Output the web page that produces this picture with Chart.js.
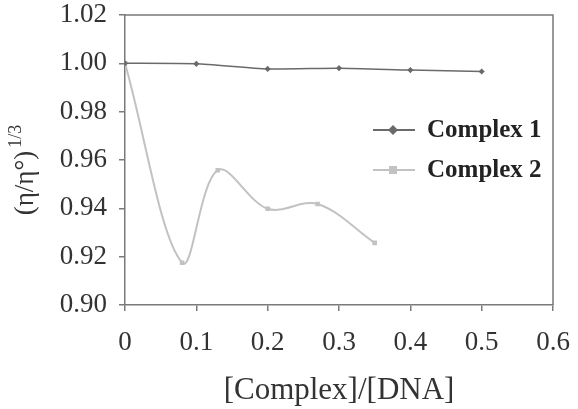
<!DOCTYPE html>
<html>
<head>
<meta charset="utf-8">
<script src="https://cdn.jsdelivr.net/npm/chart.js@4/dist/chart.umd.min.js"></script>
<style>
html,body{margin:0;padding:0;background:#fff;}
#wrap{width:578px;height:409px;position:relative;}
</style>
</head>
<body>
<div id="wrap"><canvas id="c" width="578" height="409"></canvas></div>
<script>
const xValues1 = [0, 0.1, 0.2, 0.3, 0.4, 0.5];
const yValues1 = [1.000, 0.9998, 0.9977, 0.9980, 0.9972, 0.9966];
const xValues2 = [0, 0.08, 0.13, 0.2, 0.27, 0.35];
const yValues2 = [1.000, 0.9175, 0.9558, 0.9398, 0.9418, 0.9257];
const seriesNames = ["Complex 1", "Complex 2"];
const yTicks = [0.90, 0.92, 0.94, 0.96, 0.98, 1.00, 1.02];
const xTicks = [0, 0.1, 0.2, 0.3, 0.4, 0.5, 0.6];
const xTitle = "[Complex]/[DNA]";
const yTitleMain = "(η/η°)";
const yTitleSup = "1/3";

const FONT = "'Liberation Serif', 'Times New Roman', serif";
const C1 = "#6a6a6a";
const C2 = "#c2c2c2";
const AXIS = "#7a7a7a";

const pts = (xs, ys) => xs.map((x, i) => ({x: x, y: ys[i]}));

const framePlugin = {
  id: 'frame',
  afterDraw(chart) {
    const {ctx, chartArea: a} = chart;
    ctx.save();
    ctx.strokeStyle = AXIS;
    ctx.lineWidth = 1.5;
    ctx.beginPath();
    ctx.moveTo(a.left, a.top);
    ctx.lineTo(a.right, a.top);
    ctx.lineTo(a.right, a.bottom);
    ctx.stroke();
    // legend
    const items = [
      {name: seriesNames[0], color: C1, lw: 2, marker: 'diamond', y: 130},
      {name: seriesNames[1], color: C2, lw: 2, marker: 'square', y: 170}
    ];
    items.forEach(it => {
      ctx.strokeStyle = it.color;
      ctx.lineWidth = it.lw;
      ctx.beginPath();
      ctx.moveTo(373, it.y);
      ctx.lineTo(415, it.y);
      ctx.stroke();
      ctx.fillStyle = it.color;
      ctx.beginPath();
      if (it.marker === 'diamond') {
        ctx.moveTo(393, it.y - 5); ctx.lineTo(398, it.y); ctx.lineTo(393, it.y + 5); ctx.lineTo(388, it.y);
        ctx.closePath();
      } else {
        ctx.rect(389, it.y - 4, 8, 8);
      }
      ctx.fill();
      ctx.fillStyle = "#222";
      ctx.font = "bold 25px " + FONT;
      ctx.textAlign = 'left';
      ctx.textBaseline = 'middle';
      ctx.fillText(it.name, 427, it.y + 1);
    });
    // y title
    ctx.save();
    ctx.translate(26, 170);
    ctx.rotate(-Math.PI / 2);
    ctx.fillStyle = "#333";
    ctx.textBaseline = 'middle';
    ctx.font = "27px " + FONT;
    const w1 = ctx.measureText(yTitleMain).width;
    ctx.font = "18px " + FONT;
    const w2 = ctx.measureText(yTitleSup).width;
    const tot = w1 + 3 + w2;
    ctx.font = "27px " + FONT;
    ctx.textAlign = 'left';
    ctx.fillText(yTitleMain, -tot / 2, 0);
    ctx.font = "18px " + FONT;
    ctx.fillText(yTitleSup, -tot / 2 + w1 + 3, -10);
    ctx.restore();
    ctx.restore();
  }
};

new Chart(document.getElementById('c'), {
  type: 'scatter',
  data: {
    datasets: [
      {
        label: seriesNames[0],
        data: pts(xValues1, yValues1),
        showLine: true,
        borderColor: C1,
        backgroundColor: C1,
        borderWidth: 1.5,
        pointStyle: 'rectRot',
        pointRadius: 2,
        tension: 0.2
      },
      {
        label: seriesNames[1],
        data: pts(xValues2, yValues2),
        showLine: true,
        borderColor: C2,
        backgroundColor: C2,
        borderWidth: 2,
        pointStyle: 'rect',
        pointRadius: 1.8,
        tension: 0.35
      }
    ]
  },
  options: {
    responsive: false,
    animation: false,
    devicePixelRatio: 1,
    layout: {padding: {left: 0, right: 25, top: 15, bottom: 0}},
    plugins: {legend: {display: false}, tooltip: {enabled: false}},
    scales: {
      x: {
        type: 'linear',
        min: 0, max: 0.6,
        afterBuildTicks(scale) { scale.ticks = xTicks.map(v => ({value: v})); },
        afterFit(scale) { scale.height = 104; scale.paddingLeft = 0; scale.paddingRight = 0; },
        ticks: {
          color: "#333",
          font: {family: FONT, size: 27},
          padding: 16,
          maxRotation: 0,
          callback: v => v === 0 ? "0" : v.toFixed(1)
        },
        grid: {drawOnChartArea: false, tickLength: 6, color: AXIS, lineWidth: 1.5},
        border: {display: true, color: AXIS, width: 1.5},
        title: {display: true, text: xTitle, color: "#333", font: {family: FONT, size: 31}, padding: {top: 0, bottom: 0}}
      },
      y: {
        type: 'linear',
        min: 0.90, max: 1.02,
        afterBuildTicks(scale) { scale.ticks = yTicks.map(v => ({value: v})); },
        afterFit(scale) { scale.width = 125; scale.paddingTop = 0; scale.paddingBottom = 0; },
        ticks: {
          color: "#333",
          font: {family: FONT, size: 27},
          padding: 12,
          callback: v => v.toFixed(2)
        },
        grid: {drawOnChartArea: false, tickLength: 6, color: AXIS, lineWidth: 1.5},
        border: {display: true, color: AXIS, width: 1.5}
      }
    }
  },
  plugins: [framePlugin]
});
</script>
</body>
</html>
